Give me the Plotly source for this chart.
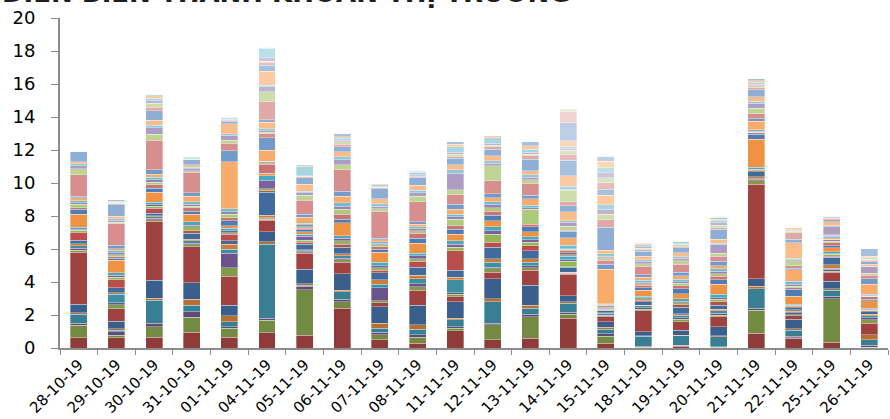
import plotly.graph_objects as go

dates = ["28-10-19", "29-10-19", "30-10-19", "31-10-19", "01-11-19", "04-11-19",
         "05-11-19", "06-11-19", "07-11-19", "08-11-19", "11-11-19", "12-11-19",
         "13-11-19", "14-11-19", "15-11-19", "18-11-19", "19-11-19", "20-11-19",
         "21-11-19", "22-11-19", "25-11-19", "26-11-19"]

y_ticks = [0, 2, 4, 6, 8, 10, 12, 14, 16, 18, 20]

# Trading value per stock, stacked bottom to top (same stock order every session)
s_28_10 = [0.62, 0.75, 0.12, 0.55, 0.10, 0.50, 3.15, 0.12, 0.15, 0.15, 0.12, 0.20,
           0.50, 0.10, 0.08, 0.10, 0.80, 0.30, 0.08, 0.22, 0.10, 0.10, 0.20, 0.10,
           1.30, 0.35, 0.20, 0.10, 0.12, 0.60, 0.02, 0.02, 0.01, 0.02, 0.01, 0.02]
s_29_10 = [0.63, 0.15, 0.22, 0.08, 0.10, 0.45, 0.75, 0.25, 0.12, 0.50, 0.10, 0.30,
           0.50, 0.15, 0.12, 0.15, 0.75, 0.12, 0.10, 0.12, 0.10, 0.12, 0.15, 0.20,
           1.30, 0.10, 0.10, 0.10, 0.15, 0.70, 0.05, 0.03, 0.03, 0.05, 0.05, 0.08]
s_30_10 = [0.65, 0.65, 0.20, 1.40, 0.12, 1.10, 3.55, 0.10, 0.10, 0.10, 0.05, 0.15,
           0.30, 0.12, 0.10, 0.15, 0.60, 0.25, 0.20, 0.15, 0.15, 0.15, 0.20, 0.25,
           1.80, 0.35, 0.40, 0.15, 0.30, 0.60, 0.20, 0.25, 0.15, 0.15, 0.15, 0.10]
s_31_10 = [0.95, 0.90, 0.35, 0.40, 0.35, 1.00, 2.20, 0.10, 0.10, 0.15, 0.10, 0.35,
           0.15, 0.25, 0.10, 0.20, 0.45, 0.20, 0.20, 0.10, 0.10, 0.15, 0.35, 0.20,
           1.25, 0.10, 0.10, 0.10, 0.15, 0.30, 0.02, 0.02, 0.02, 0.10, 0.02, 0.02]
s_01_11 = [0.65, 0.55, 0.10, 0.30, 0.35, 0.65, 1.75, 0.50, 0.90, 0.25, 0.30, 0.20,
           0.40, 0.10, 0.10, 0.15, 0.15, 0.30, 0.20, 0.20, 0.15, 0.20, 2.85, 0.65,
           0.45, 0.20, 0.30, 0.10, 0.60, 0.15, 0.05, 0.05, 0.03, 0.10, 0.02, 0.05]
s_04_11 = [0.93, 0.75, 0.12, 4.50, 0.15, 0.60, 0.70, 0.05, 0.05, 0.05, 0.15, 1.40,
           0.08, 0.12, 0.50, 0.30, 0.10, 0.05, 0.55, 0.08, 0.05, 0.05, 0.65, 0.75,
           0.25, 0.10, 0.10, 0.10, 0.40, 0.15, 1.10, 0.60, 0.30, 0.10, 0.85, 0.35,
           0.20, 0.05, 0.20, 0.60, 0.02, 0.02]
s_05_11 = [0.78, 2.75, 0.20, 0.08, 0.07, 0.90, 0.95, 0.05, 0.05, 0.05, 0.07, 0.35,
           0.12, 0.10, 0.25, 0.12, 0.15, 0.12, 0.10, 0.10, 0.10, 0.10, 0.35, 0.20,
           0.85, 0.30, 0.15, 0.10, 0.40, 0.40, 0.08, 0.03, 0.03, 0.55, 0.05, 0.05]
s_06_11 = [2.40, 0.40, 0.15, 0.45, 0.10, 1.00, 0.70, 0.15, 0.10, 0.15, 0.10, 0.40,
           0.20, 0.20, 0.15, 0.15, 0.80, 0.20, 0.30, 0.30, 0.20, 0.20, 0.40, 0.30,
           1.30, 0.30, 0.30, 0.20, 0.30, 0.30, 0.15, 0.15, 0.10, 0.10, 0.10, 0.20]
s_07_11 = [0.50, 0.30, 0.15, 0.25, 0.30, 1.00, 0.25, 0.10, 0.80, 0.20, 0.30, 0.40,
           0.15, 0.15, 0.15, 0.20, 0.60, 0.20, 0.15, 0.10, 0.10, 0.10, 0.10, 0.10,
           1.60, 0.20, 0.15, 0.15, 0.30, 0.60, 0.05, 0.05, 0.05, 0.10, 0.05, 0.05]
s_08_11 = [0.30, 0.35, 0.15, 0.35, 0.25, 1.20, 0.90, 0.20, 0.20, 0.30, 0.20, 0.50,
           0.35, 0.15, 0.20, 0.15, 0.60, 0.30, 0.30, 0.15, 0.15, 0.10, 0.15, 0.15,
           1.20, 0.35, 0.20, 0.15, 0.30, 0.50, 0.05, 0.05, 0.05, 0.15, 0.05, 0.05]
s_11_11 = [1.05, 0.15, 0.10, 0.40, 0.10, 1.00, 0.30, 0.15, 0.10, 0.80, 0.15, 0.40,
           1.20, 0.20, 0.20, 0.20, 0.40, 0.30, 0.20, 0.40, 0.15, 0.15, 0.30, 0.30,
           0.60, 0.30, 1.00, 0.20, 0.30, 0.40, 0.10, 0.15, 0.10, 0.35, 0.15, 0.15]
s_12_11 = [0.50, 0.90, 0.10, 1.30, 0.20, 1.20, 0.40, 0.20, 0.10, 0.30, 0.20, 0.70,
           0.30, 0.50, 0.20, 0.25, 0.35, 0.35, 0.25, 0.20, 0.20, 0.15, 0.25, 0.25,
           0.80, 0.90, 0.15, 0.15, 0.30, 0.40, 0.15, 0.10, 0.10, 0.35, 0.10, 0.05]
s_13_11 = [0.60, 1.30, 0.15, 0.35, 0.20, 1.20, 0.90, 0.15, 0.15, 0.20, 0.20, 0.50,
           0.30, 0.20, 0.15, 0.20, 0.30, 0.30, 0.15, 0.90, 0.10, 0.15, 0.40, 0.20,
           0.70, 0.25, 0.15, 0.15, 0.25, 0.70, 0.20, 0.10, 0.10, 0.20, 0.20, 0.25]
s_14_11 = [1.80, 0.26, 0.10, 0.54, 0.10, 0.37, 1.30, 0.03, 0.03, 0.03, 0.03, 0.30,
           0.03, 0.34, 0.10, 0.20, 0.10, 0.12, 0.15, 0.05, 0.05, 0.20, 0.45, 0.40,
           0.05, 0.25, 0.25, 0.08, 0.55, 0.35, 0.25, 0.70, 0.05, 0.20, 0.62, 0.95,
           0.35, 0.27, 0.10, 0.10, 0.35, 1.10, 0.70, 0.12]
s_15_11 = [0.30, 0.40, 0.15, 0.30, 0.10, 0.35, 0.30, 0.05, 0.05, 0.10, 0.05, 0.10,
           0.05, 0.05, 0.05, 0.05, 0.05, 0.05, 0.03, 0.03, 0.03, 0.03, 2.10, 0.30,
           0.25, 0.15, 0.10, 0.15, 0.20, 1.40, 0.45, 0.35, 0.25, 0.30, 0.60, 0.35,
           0.40, 0.30, 0.30, 0.30, 0.40, 0.30]
s_18_11 = [0.02, 0.03, 0.05, 0.60, 0.05, 0.25, 1.25, 0.10, 0.10, 0.10, 0.05, 0.20,
           0.10, 0.10, 0.05, 0.10, 0.35, 0.15, 0.15, 0.10, 0.10, 0.10, 0.20, 0.15,
           0.50, 0.15, 0.15, 0.10, 0.20, 0.30, 0.10, 0.10, 0.10, 0.10, 0.10, 0.05]
s_19_11 = [0.10, 0.03, 0.05, 0.55, 0.05, 0.30, 0.50, 0.15, 0.10, 0.15, 0.10, 0.40,
           0.15, 0.10, 0.10, 0.15, 0.30, 0.30, 0.20, 0.15, 0.10, 0.15, 0.20, 0.20,
           0.50, 0.20, 0.15, 0.10, 0.25, 0.30, 0.10, 0.10, 0.05, 0.10, 0.05, 0.05]
s_20_11 = [0.02, 0.03, 0.03, 0.60, 0.07, 0.55, 0.60, 0.10, 0.10, 0.15, 0.10, 0.25,
           0.20, 0.15, 0.10, 0.20, 0.60, 0.30, 0.20, 0.15, 0.15, 0.15, 0.20, 0.25,
           0.30, 0.20, 0.50, 0.10, 0.25, 0.60, 0.10, 0.15, 0.15, 0.10, 0.10, 0.10]
s_21_11 = [0.90, 1.40, 0.12, 1.18, 0.15, 0.45, 5.72, 0.22, 0.08, 0.05, 0.12, 0.30,
           0.05, 0.05, 0.05, 0.10, 1.70, 0.30, 0.10, 0.05, 0.05, 0.10, 0.50, 0.15,
           0.30, 0.35, 0.30, 0.10, 0.30, 0.40, 0.15, 0.10, 0.10, 0.10, 0.10, 0.15]
s_22_11 = [0.60, 0.03, 0.08, 0.37, 0.10, 0.55, 0.22, 0.08, 0.10, 0.10, 0.10, 0.12,
           0.05, 0.05, 0.05, 0.05, 0.50, 0.40, 0.10, 0.10, 0.10, 0.20, 0.70, 0.08,
           0.15, 0.30, 0.10, 0.05, 0.95, 0.20, 0.40, 0.10, 0.05, 0.05, 0.10, 0.05]
s_25_11 = [0.35, 2.65, 0.15, 0.35, 0.10, 0.45, 0.55, 0.04, 0.12, 0.08, 0.20, 0.45,
           0.08, 0.12, 0.05, 0.08, 0.25, 0.12, 0.20, 0.08, 0.08, 0.05, 0.08, 0.08,
           0.05, 0.05, 0.50, 0.05, 0.25, 0.10, 0.10, 0.10, 0.02, 0.02, 0.02, 0.04]
s_26_11 = [0.02, 0.02, 0.12, 0.35, 0.28, 0.02, 0.70, 0.20, 0.12, 0.12, 0.10, 0.15,
           0.05, 0.05, 0.05, 0.05, 0.45, 0.10, 0.15, 0.05, 0.05, 0.05, 0.60, 0.35,
           0.20, 0.12, 0.40, 0.05, 0.10, 0.15, 0.10, 0.05, 0.05, 0.05, 0.10, 0.45]

sessions = [s_28_10, s_29_10, s_30_10, s_31_10, s_01_11, s_04_11, s_05_11, s_06_11,
            s_07_11, s_08_11, s_11_11, s_12_11, s_13_11, s_14_11, s_15_11, s_18_11,
            s_19_11, s_20_11, s_21_11, s_22_11, s_25_11, s_26_11]

# Office-style accent palette; each block of six gets progressively lighter
accents = ["#C0504D", "#9BBB59", "#8064A2", "#4BACC6", "#F79646", "#4F81BD"]
levels = [-0.26, -0.17, -0.03, 0.2, 0.36, 0.5, 0.62, 0.74]


def adjust(hex_color, f):
    r, g, b = (int(hex_color[i:i + 2], 16) for i in (1, 3, 5))
    if f < 0:
        r, g, b = (round(c * (1 + f)) for c in (r, g, b))
    else:
        r, g, b = (round(c + (255 - c) * f) for c in (r, g, b))
    return f"rgb({r},{g},{b})"


n_series = max(len(s) for s in sessions)

fig = go.Figure()
for k in range(n_series):
    vals = [s[k] if k < len(s) else 0 for s in sessions]
    color = adjust(accents[k % 6], levels[k // 6])
    fig.add_trace(go.Bar(
        x=dates, y=vals, name=f"CP {k + 1}",
        marker=dict(color=color, line=dict(color="rgba(255,255,255,0.55)", width=0.6)),
        showlegend=False, hoverinfo="skip",
    ))

# Heading sits at the very top edge of the canvas
fig.add_annotation(
    text="<b>DIỄN BIẾN THANH KHOẢN THỊ TRƯỜNG</b>",
    xref="paper", yref="paper", x=-60 / 828, y=1 + 8 / 330,
    xanchor="left", yanchor="bottom", showarrow=False,
    font=dict(family="DejaVu Sans", size=26, color="#1e1e1e"),
)

fig.update_layout(
    width=890, height=419,
    margin=dict(l=60, r=2, t=18, b=71),
    barmode="stack", bargap=0.55,
    plot_bgcolor="white", paper_bgcolor="white",
    font=dict(family="DejaVu Sans", color="#000000"),
)
fig.update_xaxes(
    type="category", tickangle=-45, tickfont=dict(size=15),
    showline=True, linecolor="#8c8c8c", linewidth=2,
    ticks="outside", tickson="boundaries", ticklen=5, tickcolor="#8c8c8c",
    showgrid=False,
)
fig.update_yaxes(
    range=[0, 20], tickvals=y_ticks, tickfont=dict(size=18),
    showline=True, linecolor="#8c8c8c", linewidth=2,
    ticks="outside", ticklen=7, tickcolor="#8c8c8c", ticklabelstandoff=12,
    showgrid=False, zeroline=False,
)

fig.write_html("out.html")
